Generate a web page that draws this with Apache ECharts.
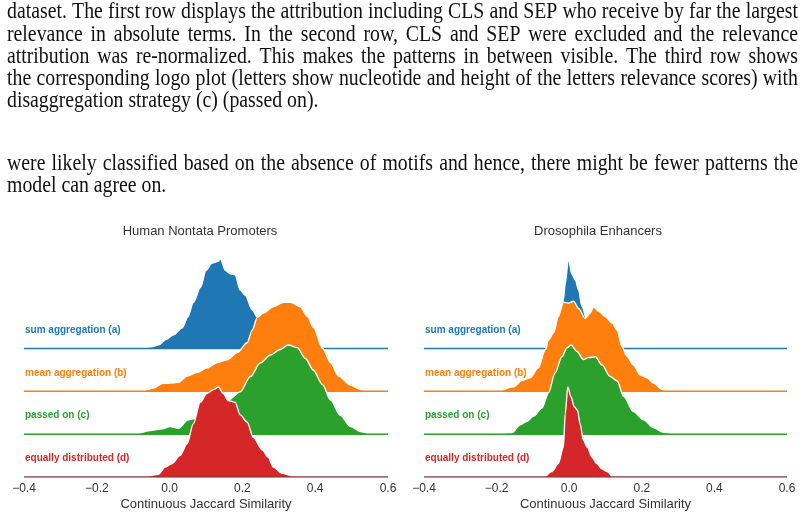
<!DOCTYPE html>
<html>
<head>
<meta charset="utf-8">
<script src="https://cdn.jsdelivr.net/npm/echarts@6/dist/echarts.min.js"></script>
<style>
  html, body { margin: 0; padding: 0; background: #fff; }
  #chart { width: 805px; height: 518px; }
</style>
</head>
<body>
<div id="chart"></div>
<script>
// ridge rows, top to bottom
const ridgeNames = ["sum aggregation (a)", "mean aggregation (b)", "passed on (c)", "equally distributed (d)"];
const ridgeColors = ["#1f77b4", "#ff7f0e", "#2ca02c", "#d62728"];
const panelTitles = ["Human Nontata Promoters", "Drosophila Enhancers"];
const axisTitle = "Continuous Jaccard Similarity";
const xTicks = [-0.4, -0.2, 0.0, 0.2, 0.4, 0.6];

// density heights, % of each ridge's own peak
const humanSum = [[-0.10,0],[-0.08,0.5],[-0.05,2],[-0.03,4],[-0.01,10],[0.01,15],[0.035,23],[0.05,35],[0.065,51],[0.085,68],[0.10,87],[0.117,95],[0.134,97],[0.139,100],[0.153,87],[0.167,83],[0.18,82],[0.194,65],[0.208,59],[0.227,43],[0.241,35],[0.26,22],[0.28,12],[0.30,5],[0.32,1.5],[0.34,0]];
const humanMean = [[-0.095,0],[-0.07,1],[-0.045,3.5],[-0.018,9],[-0.004,9],[0.024,10],[0.048,17],[0.076,21],[0.103,26],[0.131,32],[0.158,35],[0.186,43],[0.213,54],[0.227,68],[0.241,82],[0.257,87],[0.285,94],[0.313,99],[0.332,99],[0.359,94],[0.379,83],[0.395,71],[0.42,48],[0.442,32],[0.464,17],[0.497,7],[0.524,2],[0.55,0]];
const humanPassed = [[-0.09,0],[-0.053,4],[-0.02,6],[0.002,8.5],[0.024,6.5],[0.051,16],[0.076,18],[0.112,22],[0.139,30],[0.161,38],[0.194,47],[0.222,64],[0.249,79],[0.277,88],[0.304,94],[0.326,99],[0.351,96],[0.373,84],[0.395,71],[0.42,55],[0.442,38],[0.469,21],[0.497,8.5],[0.524,3],[0.55,0]];
const humanEqual = [[-0.065,0],[-0.031,3],[-0.012,11],[0.007,15],[0.029,24],[0.048,37],[0.065,59],[0.084,83],[0.103,93],[0.12,97],[0.134,100],[0.147,93],[0.161,85],[0.18,83],[0.194,69],[0.213,61],[0.23,44],[0.255,30],[0.271,22],[0.285,11],[0.31,4],[0.34,0]];

const droSum = [[-0.075,0],[-0.06,2],[-0.04,8],[-0.025,25],[-0.016,54],[-0.011,72],[-0.002,100],[0.007,83],[0.017,76],[0.026,65],[0.035,47],[0.05,30],[0.07,18],[0.09,10],[0.12,4],[0.15,0]];
const droMean = [[-0.19,0],[-0.154,5],[-0.13,12],[-0.108,15],[-0.085,26],[-0.066,46],[-0.057,57],[-0.043,65],[-0.03,83],[-0.016,99],[-0.002,98],[0.012,100],[0.026,92],[0.044,81],[0.058,87],[0.067,94],[0.081,89],[0.099,83],[0.118,76],[0.132,68],[0.145,50],[0.159,39],[0.177,29],[0.196,18],[0.214,15],[0.233,9],[0.256,2],[0.27,0]];
const droPassed = [[-0.22,0],[-0.19,0.8],[-0.158,1.5],[-0.135,10.5],[-0.117,14],[-0.098,20],[-0.075,29],[-0.057,46],[-0.039,68],[-0.02,86],[-0.006,96],[0.005,99],[0.021,92],[0.039,83],[0.053,85],[0.072,86],[0.09,77],[0.113,64],[0.132,59],[0.15,42],[0.177,25],[0.205,16],[0.233,7],[0.26,2],[0.29,0]];
const droEqual = [[-0.066,0],[-0.048,6],[-0.03,15],[-0.016,33],[-0.011,70],[-0.004,100],[0.005,89],[0.014,78],[0.023,74],[0.03,59],[0.039,41],[0.05,33],[0.063,22],[0.076,15],[0.09,9],[0.104,6],[0.118,0]];

const panels = [
  [humanSum, humanMean, humanPassed, humanEqual],
  [droSum, droMean, droPassed, droEqual],
];

// paragraph text above the figure; true = justified line
const bodyLines = [
  ["dataset. The first row displays the attribution including CLS and SEP who receive by far the largest", true, 12],
  ["relevance in absolute terms.  In the second row, CLS and SEP were excluded and the relevance", true, 35],
  ["attribution was re-normalized.  This makes the patterns in between visible.  The third row shows", true, 57],
  ["the corresponding logo plot (letters show nucleotide and height of the letters relevance scores) with", true, 79],
  ["disaggregation strategy (c) (passed on).", false, 101],
  ["were likely classified based on the absence of motifs and hence, there might be fewer patterns the", true, 164],
  ["model can agree on.", false, 186],
];

const ridgeGap = 47.6;   // baseline spacing in % of peak height
const textFont = '23px "Liberation Serif"';
const textSquash = 0.86; // the page scan is narrower than it is tall
const textLeft = 7, textRight = 798;

const chart = echarts.init(document.getElementById("chart"));

const measure = document.createElement("canvas").getContext("2d");
measure.font = textFont;

const graphics = [];
bodyLines.forEach(([line, justify, y]) => {
  const words = justify ? line.split(/\s+/) : [line];
  const widths = words.map((w) => measure.measureText(w).width * textSquash);
  const total = widths.reduce((a, b) => a + b, 0);
  const gap = justify ? (textRight - textLeft - total) / (words.length - 1) : 0;
  let x = textLeft;
  words.forEach((w, i) => {
    graphics.push({ type: "text", x: x, y: y, scaleX: textSquash,
      style: { text: w, font: textFont, fill: "#111", textVerticalAlign: "middle" } });
    x += widths[i] + gap;
  });
});

const grids = [
  { left: 24, right: 417, top: 243, bottom: 41 },
  { left: 424, right: 18, top: 243, bottom: 41 },
];

const labelY = [330, 373, 415, 458];
const titleCenters = [200, 598];
grids.forEach((g, p) => {
  graphics.push({ type: "text", x: titleCenters[p], y: 231,
    style: { text: panelTitles[p], font: '13px "Liberation Sans"', fill: "#333",
      textAlign: "center", textVerticalAlign: "middle" } });
  ridgeNames.forEach((name, k) => {
    graphics.push({ type: "text", x: g.left + 1, y: labelY[k],
      style: { text: name, font: 'bold 10px "Liberation Sans"', fill: ridgeColors[k],
        textVerticalAlign: "middle" } });
  });
});

const series = [];
panels.forEach((ridges, p) => {
  ridges.forEach((pts, k) => {
    const base = (ridges.length - 1 - k) * ridgeGap;
    series.push({
      type: "line",
      xAxisIndex: p,
      yAxisIndex: p,
      data: pts.map(([x, h]) => [x, base + h]),
      smooth: 0.3,
      smoothMonotone: "x",
      showSymbol: false,
      silent: true,
      z: 2 + k * 2,
      lineStyle: { color: "#fff", width: 1.4 },
      areaStyle: { color: ridgeColors[k], opacity: 1, origin: base },
    });
    series.push({
      type: "line",
      xAxisIndex: p,
      yAxisIndex: p,
      data: [[xTicks[0], base], [xTicks[xTicks.length - 1], base]],
      showSymbol: false,
      silent: true,
      z: 3 + k * 2,
      lineStyle: { color: k === ridges.length - 1 ? "#8b3a3a" : ridgeColors[k], width: 1.5 },
    });
  });
});

const option = {
  animation: false,
  backgroundColor: "#fff",
  grid: grids,
  xAxis: grids.map((g, p) => ({
    type: "value",
    gridIndex: p,
    min: xTicks[0],
    max: xTicks[xTicks.length - 1],
    interval: 0.2,
    axisLine: { show: false },
    axisTick: { show: false },
    splitLine: { show: false },
    axisLabel: {
      fontSize: 12,
      fontFamily: "Liberation Sans",
      color: "#333",
      margin: 6,
      showMinLabel: true,
      showMaxLabel: true,
      formatter: (v) => (v < 0 ? "\u2212" : "") + Math.abs(v).toFixed(1),
    },
    name: axisTitle,
    nameLocation: "middle",
    nameGap: 21,
    nameTextStyle: { fontSize: 13, fontFamily: "Liberation Sans", color: "#333" },
  })),
  yAxis: grids.map((g, p) => ({
    type: "value",
    gridIndex: p,
    min: 0,
    max: 260,
    show: false,
  })),
  graphic: graphics,
  series: series,
};

chart.setOption(option);
</script>
</body>
</html>
